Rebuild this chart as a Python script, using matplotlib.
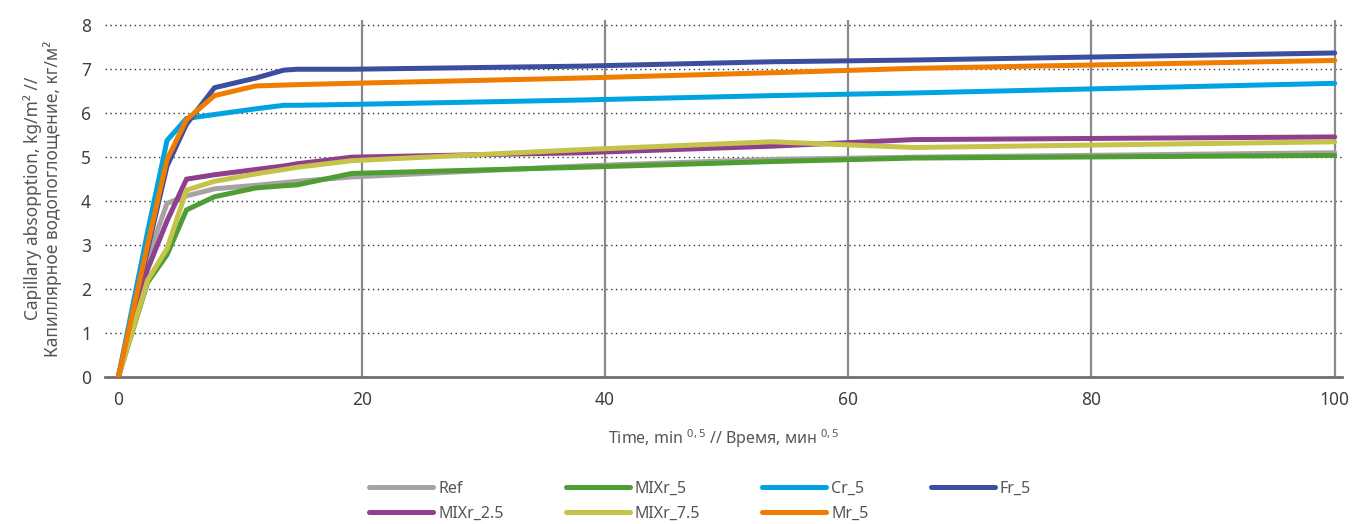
import numpy as np
import matplotlib.pyplot as plt

plt.rcParams['font.family'] = ['Noto Sans', 'DejaVu Sans']
plt.rcParams['mathtext.default'] = 'regular'

# time axis, min^0.5 (shared by all series)
t = [0, 2.4, 4.0, 5.6, 7.9, 11.3, 13.6, 14.7, 19.2, 38.0, 53.7, 65.4, 100]

# capillary absorption, kg/m2
ref     = [0, 2.7, 3.95, 4.12, 4.28, 4.36, 4.42, 4.45, 4.55, 4.80, 4.95, 5.00, 5.10]
mixr_5  = [0, 2.15, 2.78, 3.80, 4.10, 4.30, 4.35, 4.37, 4.63, 4.77, 4.90, 4.98, 5.04]
cr_5    = [0, 3.3, 5.38, 5.88, 5.97, 6.10, 6.18, 6.18, 6.20, 6.30, 6.40, 6.46, 6.68]
fr_5    = [0, 2.9, 4.80, 5.75, 6.58, 6.80, 6.98, 7.00, 7.00, 7.07, 7.17, 7.21, 7.37]
mixr_25 = [0, 2.45, 3.55, 4.50, 4.60, 4.72, 4.80, 4.85, 5.00, 5.10, 5.25, 5.40, 5.46]
mixr_75 = [0, 2.2, 2.92, 4.25, 4.45, 4.62, 4.72, 4.77, 4.92, 5.17, 5.35, 5.22, 5.35]
mr_5    = [0, 3.0, 4.95, 5.85, 6.40, 6.62, 6.64, 6.65, 6.68, 6.80, 6.92, 7.02, 7.20]

series = [
    ('Ref', ref, '#a7a3a4'),
    ('MIXr_5', mixr_5, '#4f9e33'),
    ('Cr_5', cr_5, '#00a3df'),
    ('Fr_5', fr_5, '#3c4f9f'),
    ('MIXr_2.5', mixr_25, '#8e3f8e'),
    ('MIXr_7.5', mixr_75, '#c5c34a'),
    ('Mr_5', mr_5, '#f07c00'),
]

fig = plt.figure(figsize=(13.54, 5.24), dpi=100)
ax = fig.add_axes([105 / 1354, 1 - 377 / 524, 1237 / 1354, 357 / 524])

lines = {}
for name, vals, col in series:
    ln, = ax.plot(t, vals, color=col, lw=3.6, solid_capstyle='round',
                  solid_joinstyle='miter', label=name, zorder=3)
    lines[name] = ln

ax.set_xlim(-1.1, 100.6)
ax.set_ylim(0, 8.12)
ax.set_xticks([0, 20, 40, 60, 80, 100])
ax.set_yticks(range(9))

# grid: dotted horizontal, solid vertical
for y in range(1, 9):
    ax.axhline(y, color='#333333', lw=1.0, ls=(0, (1, 2.5)), zorder=1)
for x in [20, 40, 60, 80, 100]:
    ax.axvline(x, color='#8a8a8a', lw=1.6, zorder=1)

for s in ['top', 'right', 'left']:
    ax.spines[s].set_visible(False)
ax.spines['bottom'].set_color('#707070')
ax.spines['bottom'].set_linewidth(2)
ax.tick_params(length=0, labelsize=12.5, labelcolor='#404040', pad=10)

ax.set_xlabel('Time, min $^{0,5}$ // Время, мин $^{0,5}$', fontsize=11.5,
              color='#555555', labelpad=13)
ax.set_ylabel('Capillary absopption, kg/m² //\nКапиллярное водопоглощение, кг/м²',
              fontsize=12.5, color='#555555', labelpad=14, linespacing=1.05)

order = ['Ref', 'MIXr_2.5', 'MIXr_5', 'MIXr_7.5', 'Cr_5', 'Mr_5', 'Fr_5']
fig.legend([lines[n] for n in order], order, loc='center',
           bbox_to_anchor=(700 / 1354, 0.043), ncol=4, frameon=False,
           fontsize=11.5, labelcolor='#555555', handlelength=4.0,
           handletextpad=0.3, columnspacing=3.9, labelspacing=0.55,
           borderaxespad=0)

fig.savefig('out.png', dpi=100)
